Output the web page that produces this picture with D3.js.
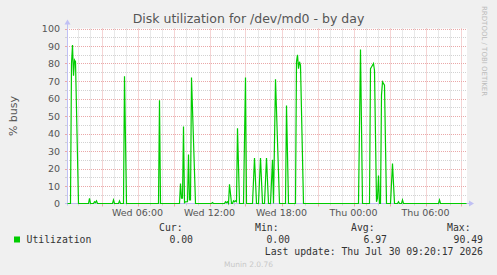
<!DOCTYPE html>
<html>
<head>
<meta charset="utf-8">
<script src="https://cdn.jsdelivr.net/npm/d3@7"></script>
<style>
  body { margin: 0; background: #f0f0f0; }
  svg text { font-family: "DejaVu Sans", sans-serif; }
  svg text.mono { font-family: "DejaVu Sans Mono", monospace; }
</style>
</head>
<body>
<div class="chart"></div>
<script>
// data (5 minute samples, only the points around each burst)
const sampleTimes = [
  "Wed 00:10","Wed 00:25","Wed 00:30","Wed 00:35","Wed 00:40","Wed 00:45","Wed 00:50","Wed 01:05",
  "Wed 01:55","Wed 02:00","Wed 02:05","Wed 02:20","Wed 02:25","Wed 02:30","Wed 02:35","Wed 02:40",
  "Wed 03:55","Wed 04:00","Wed 04:05","Wed 04:25","Wed 04:30","Wed 04:35","Wed 04:50","Wed 04:55","Wed 05:05",
  "Wed 07:45","Wed 07:50","Wed 07:55",
  "Wed 09:30","Wed 09:35","Wed 09:40","Wed 09:45","Wed 09:50","Wed 09:55","Wed 10:00","Wed 10:10","Wed 10:15",
  "Wed 10:20","Wed 10:25","Wed 10:30","Wed 10:50",
  "Wed 12:10","Wed 12:15","Wed 12:20",
  "Wed 13:15","Wed 13:20","Wed 13:25","Wed 13:30","Wed 13:35","Wed 13:40","Wed 13:50","Wed 13:55",
  "Wed 14:00","Wed 14:05","Wed 14:10","Wed 14:15","Wed 14:20","Wed 14:30",
  "Wed 14:50","Wed 15:00","Wed 15:05",
  "Wed 15:35","Wed 15:45","Wed 15:55","Wed 16:05","Wed 16:15","Wed 16:25","Wed 16:35","Wed 16:45","Wed 16:55",
  "Wed 17:05","Wed 17:15","Wed 17:20","Wed 17:30","Wed 17:50",
  "Wed 18:20","Wed 18:25","Wed 18:35",
  "Wed 19:10","Wed 19:15","Wed 19:20","Wed 19:25","Wed 19:30","Wed 19:35","Wed 19:50",
  "Thu 00:25","Thu 00:35","Thu 00:45",
  "Thu 01:20","Thu 01:25","Thu 01:30","Thu 01:40","Thu 01:45","Thu 01:55","Thu 02:00","Thu 02:05","Thu 02:10",
  "Thu 02:15","Thu 02:20","Thu 02:25","Thu 02:35","Thu 02:45",
  "Thu 03:05","Thu 03:15","Thu 03:25","Thu 03:40","Thu 03:45","Thu 03:50","Thu 04:00","Thu 04:05","Thu 04:10",
  "Thu 07:05","Thu 07:10","Thu 07:15","Thu 09:25"
];
const busyValues = [
  0,0,80,90.49,73,82,81,0,
  0,3,0,0,1,0.5,1.5,0,
  0,2,0,0,1.5,0,0,72.7,0,
  0,59,0,
  0,11.4,3,3,44,0.5,1,1,28,
  2,2,72,0,
  0,0.5,0,
  0,1,0.5,1,0,11,0,0,
  1.5,1,1.5,1,43,0,
  0,72,0,
  0,26,0,0,26,0,0,26,0,
  0,25,0,71,0,
  0,56,0,
  0,81,85,77,81,79,0,
  0,88,0,
  0,77,78,80,76,1,3,16,0,
  0,62,69.5,67.6,0,
  0,22.8,0,0,1,0,0,2,0,
  0,2,0,0
];
const yTicks = [0,10,20,30,40,50,60,70,80,90,100];
const xLabels = ["Wed 06:00","Wed 12:00","Wed 18:00","Thu 00:00","Thu 06:00"];
const legendHeads = ["Cur:","Min:","Avg:","Max:"];
const legendVals = ["0.00","0.00","6.97","90.49"];

const width = 497, height = 275;
const plotL = 67, plotR = 467, plotT = 28.5, plotB = 203.5;

function parseT(s) {
  const day = s.slice(0,3) === "Wed" ? 29 : 30;
  const hm = s.slice(4).split(":");
  return new Date(2026, 6, day, +hm[0], +hm[1]);
}
const start = new Date(2026, 6, 29, 0, 7, 30);
const end = new Date(start.getTime() + 2000 * 60000);

const x = d3.scaleTime().domain([start, end]).range([plotL, plotR]);
const y = d3.scaleLinear().domain([0, 100]).range([plotB, plotT]);

const svg = d3.select(".chart").append("svg")
  .attr("width", width).attr("height", height);

svg.append("rect").attr("width", width).attr("height", height).attr("fill", "#f0f0f0");
svg.append("rect").attr("x", plotL).attr("y", plotT).attr("width", plotR - plotL).attr("height", plotB - plotT)
  .attr("fill", "#ffffff");

// grid
const redGrid = "#eaa8a8", grayGrid = "#d2d2d2";
const g = svg.append("g");
const hours = d3.timeHour.range(start, end);
hours.forEach(h => {
  const major = h.getHours() % 3 === 0;
  const xx = Math.round(x(h)) + 0.5;
  g.append("line")
    .attr("x1", xx).attr("x2", xx)
    .attr("y1", plotT).attr("y2", plotB)
    .attr("stroke", major ? redGrid : grayGrid)
    .attr("stroke-dasharray", "1,1");
  g.append("line")
    .attr("x1", xx).attr("x2", xx)
    .attr("y1", plotB).attr("y2", plotB + (major ? 3 : 2))
    .attr("stroke", major ? redGrid : grayGrid);
});
d3.range(5, 101, 5).forEach(v => {
  const major = v % 10 === 0;
  const yy = Math.round(y(v)) + 0.5;
  g.append("line").attr("x1", plotL).attr("x2", plotR).attr("y1", yy).attr("y2", yy)
    .attr("stroke", major ? redGrid : grayGrid).attr("stroke-dasharray", "1,1");
  g.append("line").attr("x1", plotL - 2).attr("x2", plotL).attr("y1", yy).attr("y2", yy)
    .attr("stroke", major ? redGrid : grayGrid);
});

// y tick labels
svg.selectAll(".ytl").data(yTicks).enter().append("text")
  .attr("x", 60).attr("y", d => y(d) + 3.5)
  .attr("text-anchor", "end").attr("font-size", "9.5px").attr("fill", "#555")
  .text(d => d);

// x labels
const fmt = d3.timeFormat("%a %H:%M");
const labelDates = d3.timeHour.every(6).range(start, end);
svg.selectAll(".xtl").data(labelDates.filter(d => xLabels.includes(fmt(d)))).enter().append("text")
  .attr("x", d => x(d)).attr("y", 216)
  .attr("text-anchor", "middle").attr("font-size", "9.5px").attr("fill", "#555")
  .text(d => fmt(d));

// axes with arrows
const axisCol = "#c0c0f4";
svg.append("line").attr("x1", plotL + 0.5).attr("x2", plotL + 0.5).attr("y1", plotB + 2).attr("y2", plotT - 5)
  .attr("stroke", axisCol);
svg.append("path").attr("d", `M${plotL - 2.5},${plotT - 4} L${plotL + 3.5},${plotT - 4} L${plotL + 0.5},${plotT - 9} Z`)
  .attr("fill", axisCol);
svg.append("line").attr("x1", plotL - 2).attr("x2", plotR + 4).attr("y1", plotB).attr("y2", plotB)
  .attr("stroke", axisCol);
svg.append("path").attr("d", `M${plotR + 2},${plotB - 3} L${plotR + 2},${plotB + 3} L${plotR + 7},${plotB} Z`)
  .attr("fill", axisCol);

// series
const pts = sampleTimes.map((t, i) => ({ t: parseT(t), v: busyValues[i] }));
const line = d3.line().x(d => x(d.t)).y(d => y(d.v));
svg.append("path").datum(pts)
  .attr("d", line).attr("fill", "none")
  .attr("stroke", "#00cc00").attr("stroke-width", 1.2);

// titles
svg.append("text").attr("x", 248.5).attr("y", 23).attr("text-anchor", "middle")
  .attr("font-size", "12.5px").attr("fill", "#555")
  .text("Disk utilization for /dev/md0 - by day");
svg.append("text").attr("transform", "translate(17,116) rotate(-90)")
  .attr("text-anchor", "middle").attr("font-size", "11px").attr("fill", "#555")
  .text("% busy");
svg.append("text").attr("transform", "translate(482,6) rotate(90)")
  .attr("font-size", "7px").attr("fill", "#bbb")
  .text("RRDTOOL / TOBI OETIKER");

// legend
svg.append("rect").attr("x", 14).attr("y", 236.5).attr("width", 6).attr("height", 6).attr("fill", "#00cc00");
svg.append("text").attr("class", "mono").attr("x", 26.5).attr("y", 243)
  .attr("font-size", "9.8px").attr("fill", "#333").text("Utilization");
const headX = [159, 255, 351, 447];
const valEnd = [193, 290, 387, 483];
svg.selectAll(".lh").data(legendHeads).enter().append("text").attr("class", "mono")
  .attr("x", (d, i) => headX[i]).attr("y", 231).attr("font-size", "9.8px").attr("fill", "#333").text(d => d);
svg.selectAll(".lv").data(legendVals).enter().append("text").attr("class", "mono")
  .attr("x", (d, i) => valEnd[i]).attr("y", 243).attr("text-anchor", "end")
  .attr("font-size", "9.8px").attr("fill", "#333").text(d => d);
svg.append("text").attr("class", "mono").attr("x", 483).attr("y", 255).attr("text-anchor", "end")
  .attr("font-size", "9.8px").attr("fill", "#333").text("Last update: Thu Jul 30 09:20:17 2026");
svg.append("text").attr("x", 248.5).attr("y", 267).attr("text-anchor", "middle")
  .attr("font-size", "7.5px").attr("fill", "#c8c8c8").text("Munin 2.0.76");
</script>
</body>
</html>
